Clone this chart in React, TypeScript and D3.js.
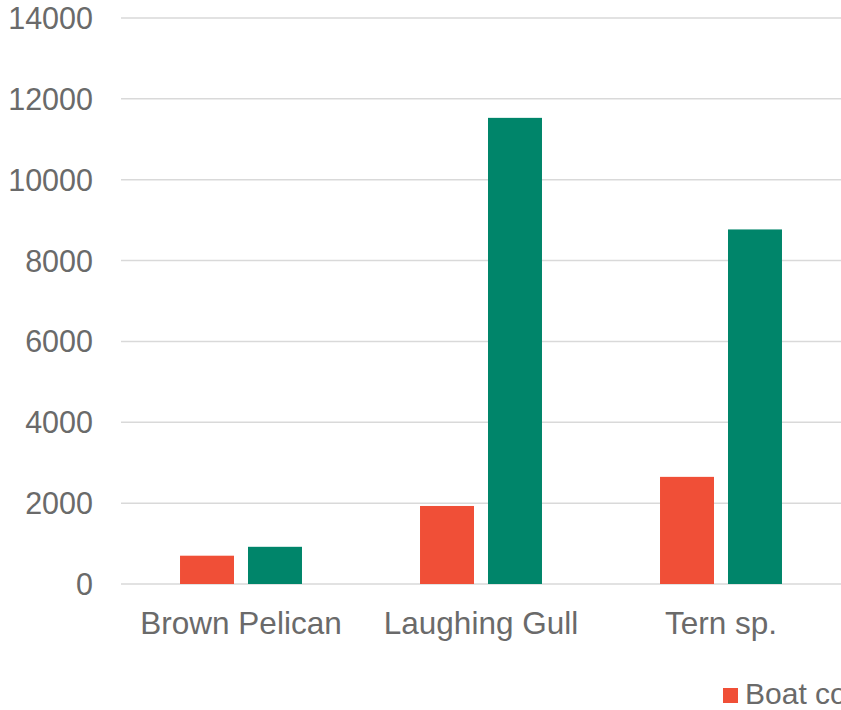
import React from "react";
import * as d3 from "d3";

const categories = ["Brown Pelican", "Laughing Gull", "Tern sp."];
const seriesNames = ["Boat count", "Aerial count"];
const boatCount = [700, 1930, 2650];
const aerialCount = [920, 11530, 8770];
const yTicks = [0, 2000, 4000, 6000, 8000, 10000, 12000, 14000];

const colors = ["#F04F37", "#00856A"];
const W = 841;
const H = 710;
const font = "'Liberation Sans', Arial, sans-serif";
const textColor = "#6A6A6A";

export default function App() {
  const x0 = d3.scaleBand<string>().domain(categories).range([121, 841]);
  const x1 = d3
    .scaleBand<string>()
    .domain(seriesNames)
    .range([0, x0.bandwidth()])
    .paddingInner(0.206)
    .paddingOuter(0.868);
  const y = d3.scaleLinear().domain([0, 14000]).range([584, 18]);
  const values = [boatCount, aerialCount];

  return (
    <svg
      width={W}
      height={H}
      style={{ position: "absolute", left: 0, top: 0, background: "#fff" }}
    >
      {yTicks.map((t) => (
        <g key={t}>
          <line
            x1={121}
            x2={841}
            y1={y(t)}
            y2={y(t)}
            stroke="#D9D9D9"
            strokeWidth={1.5}
          />
          <text
            x={93}
            y={y(t)}
            dy="0.36em"
            textAnchor="end"
            fontFamily={font}
            fontSize={30.5}
            fill={textColor}
          >
            {t}
          </text>
        </g>
      ))}
      {categories.map((c, i) => (
        <g key={c}>
          {seriesNames.map((s, j) => (
            <rect
              key={s}
              x={(x0(c) ?? 0) + (x1(s) ?? 0)}
              y={y(values[j][i])}
              width={x1.bandwidth()}
              height={y(0) - y(values[j][i])}
              fill={colors[j]}
            />
          ))}
          <text
            x={(x0(c) ?? 0) + x0.bandwidth() / 2}
            y={634}
            textAnchor="middle"
            fontFamily={font}
            fontSize={31.5}
            fill={textColor}
          >
            {c}
          </text>
        </g>
      ))}
      <g>
        <rect x={723} y={688} width={15} height={15} fill={colors[0]} />
        <text x={745} y={704} fontFamily={font} fontSize={30} fill={textColor}>
          {seriesNames[0]}
        </text>
        <rect x={935} y={688} width={15} height={15} fill={colors[1]} />
        <text x={957} y={704} fontFamily={font} fontSize={30} fill={textColor}>
          {seriesNames[1]}
        </text>
      </g>
    </svg>
  );
}
